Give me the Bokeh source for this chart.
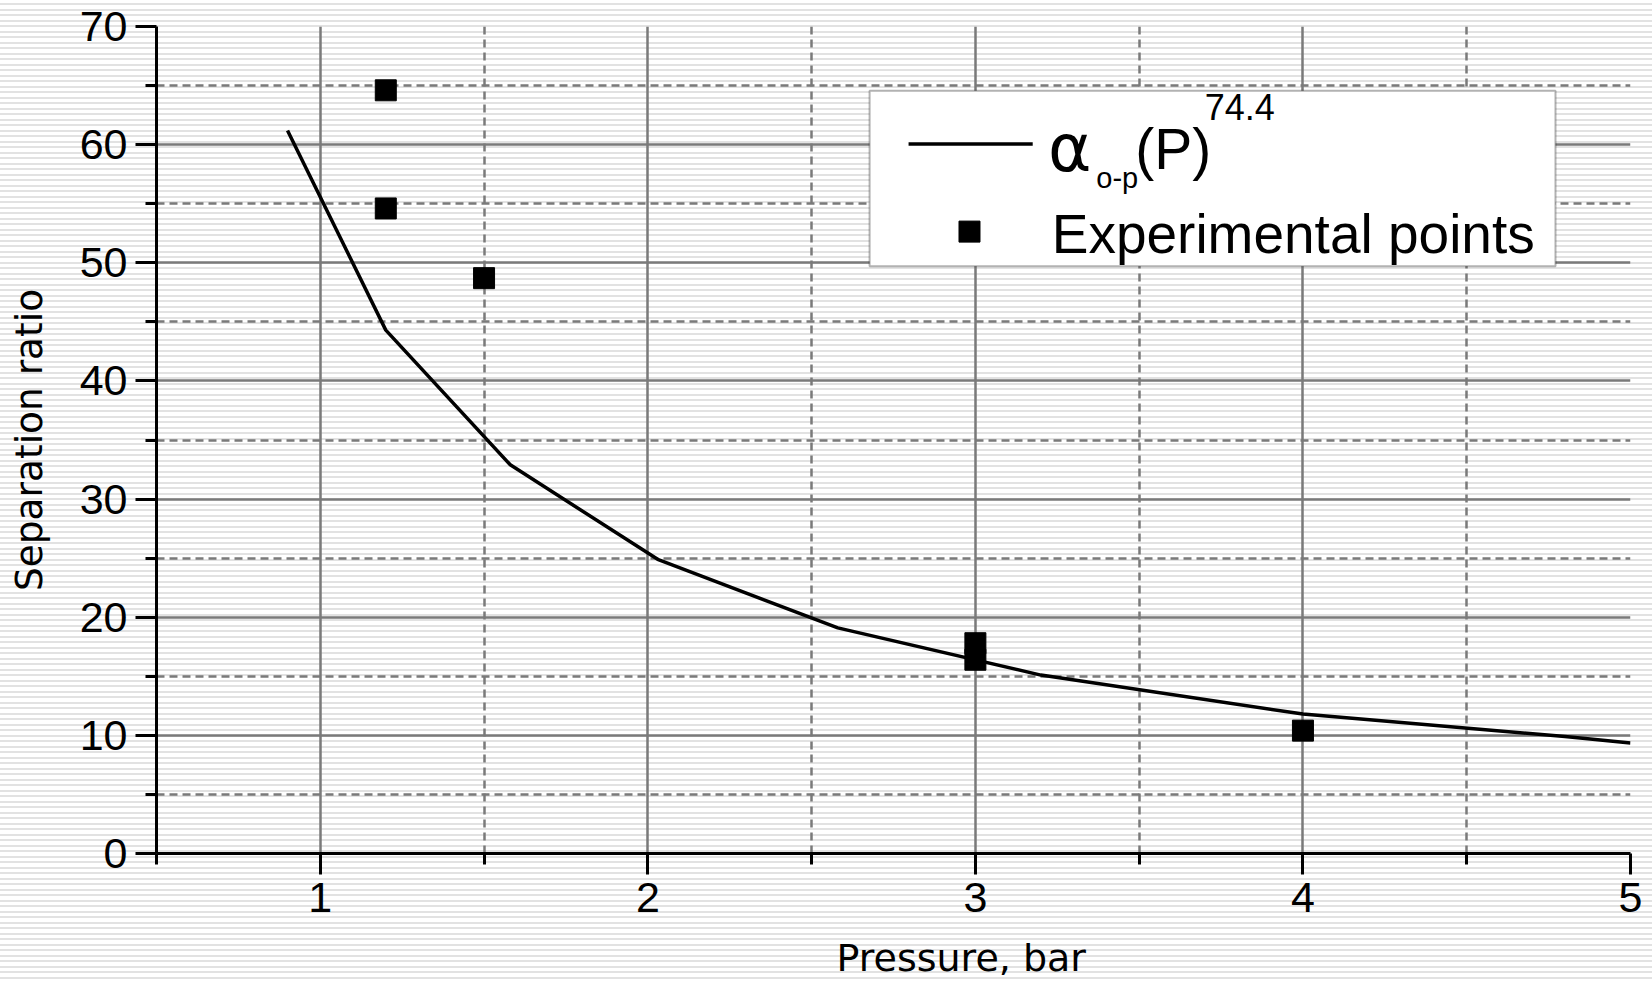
from bokeh.plotting import figure
from bokeh.models import (FixedTicker, BoxAnnotation, Label, Range1d, Title)
from bokeh.embed import file_html
from bokeh.resources import INLINE

# ---- data ----
curve_p = [0.9, 1.2, 1.58, 2.03, 2.58, 3.2, 4.0, 4.8, 5.0]
curve_ratio = [61.2, 44.3, 32.9, 24.9, 19.1, 15.1, 11.8, 9.9, 9.35]

exp_p = [1.2, 1.2, 1.5, 3.0, 3.0, 4.0]
exp_ratio = [64.6, 54.6, 48.7, 17.8, 16.4, 10.4]

x_ticks = [1, 2, 3, 4, 5]
x_minor = [0.5, 1.5, 2.5, 3.5, 4.5]
y_ticks = [0, 10, 20, 30, 40, 50, 60, 70]
y_minor = [5, 15, 25, 35, 45, 55, 65]

x_label = "Pressure, bar"
y_label = "Separation ratio"
legend_exp = "Experimental points"

TICK_FONT = "Liberation Sans"
LABEL_FONT = "DejaVu Sans"
GRID = "#7a7a7a"

# the original's x label runs slightly past the bottom edge of the page
p = figure(width=1652, height=999, output_backend="svg", toolbar_location=None,
           x_range=Range1d(0.5, 5), y_range=Range1d(0, 70),
           min_border_left=156, min_border_right=22, min_border_top=26,
           min_border_bottom=145)
p.outline_line_color = None
p.background_fill_alpha = 0
p.border_fill_alpha = 0
p.styles = {"background-color": "#ffffff",
            "background-image": "repeating-linear-gradient(to bottom, #ffffff 0px, #ffffff 3.5px, #e2e2e2 3.5px, #e2e2e2 5.5px)"}

# axes
for ax in (p.xaxis[0], p.yaxis[0]):
    ax.axis_line_width = 3
    ax.axis_line_color = "black"
    ax.major_tick_line_width = 3
    ax.minor_tick_line_width = 3
    ax.major_tick_line_color = "black"
    ax.minor_tick_line_color = "black"
    ax.major_tick_in = 0
    ax.minor_tick_in = 0
    ax.major_tick_out = 21
    ax.minor_tick_out = 11
    ax.major_label_text_font = TICK_FONT
    ax.major_label_text_font_size = "43px"
    ax.major_label_text_color = "black"

p.xaxis.ticker = FixedTicker(ticks=x_ticks, minor_ticks=x_minor)
p.yaxis.ticker = FixedTicker(ticks=y_ticks, minor_ticks=y_minor)
p.xaxis.major_label_standoff = 8
p.yaxis.major_label_standoff = 8

p.yaxis.axis_label = y_label
p.yaxis.axis_label_text_font = LABEL_FONT
p.yaxis.axis_label_text_font_style = "normal"
p.yaxis.axis_label_text_font_size = "37.5px"
p.yaxis.axis_label_text_color = "black"
p.yaxis.axis_label_standoff = 26

# x axis label, shifted right as in the original
xt = Title(text=x_label, align="left", offset=680, standoff=39,
           text_font=LABEL_FONT, text_font_size="38px",
           text_font_style="normal", text_color="black")
p.add_layout(xt, "below")

# grids
p.xgrid.ticker = FixedTicker(ticks=[1, 2, 3, 4], minor_ticks=[1.5, 2.5, 3.5, 4.5])
p.ygrid.ticker = FixedTicker(ticks=[10, 20, 30, 40, 50, 60], minor_ticks=y_minor)
for g in (p.xgrid[0], p.ygrid[0]):
    g.grid_line_color = GRID
    g.grid_line_width = 2.5
    g.minor_grid_line_color = GRID
    g.minor_grid_line_width = 2.5
    g.minor_grid_line_dash = "8 5"

# data
p.line(curve_p, curve_ratio, line_color="black", line_width=3.5)
p.scatter(exp_p, exp_ratio, marker="square", size=21, fill_color="black",
          line_color="black")

# legend (manual, to allow sub/superscripts)
p.add_layout(BoxAnnotation(left=2.677, right=4.771, bottom=49.7, top=64.57,
                           fill_color="white", fill_alpha=1,
                           line_color="black", line_width=2, level="annotation"))
leg_line = p.line([2.796, 3.175], [60.05, 60.05], line_color="black", line_width=3.5)
leg_line.level = "overlay"
leg_pt = p.scatter([2.982], [52.64], marker="square", size=21,
                   fill_color="black", line_color="black")
leg_pt.level = "overlay"

def lab(x, y, t, size, font=TICK_FONT):
    lb = Label(x=x, y=y, text=t, text_font=font, text_font_size=size,
               text_baseline="alphabetic", text_color="black", level="overlay")
    p.add_layout(lb)

lab(3.222, 59.7, "α", "66px", "DejaVu Sans")
lab(3.369, 57.2, "o-p", "29px")
lab(3.488, 59.6, "(P)", "57px")
lab(3.70, 63.2, "74.4", "36px")
lab(3.233, 52.43, legend_exp, "55px")

html = file_html(p, INLINE)
html = html.replace("<body>", '<body style="margin:0;overflow:hidden">', 1)
open("out.html", "w").write(html)
